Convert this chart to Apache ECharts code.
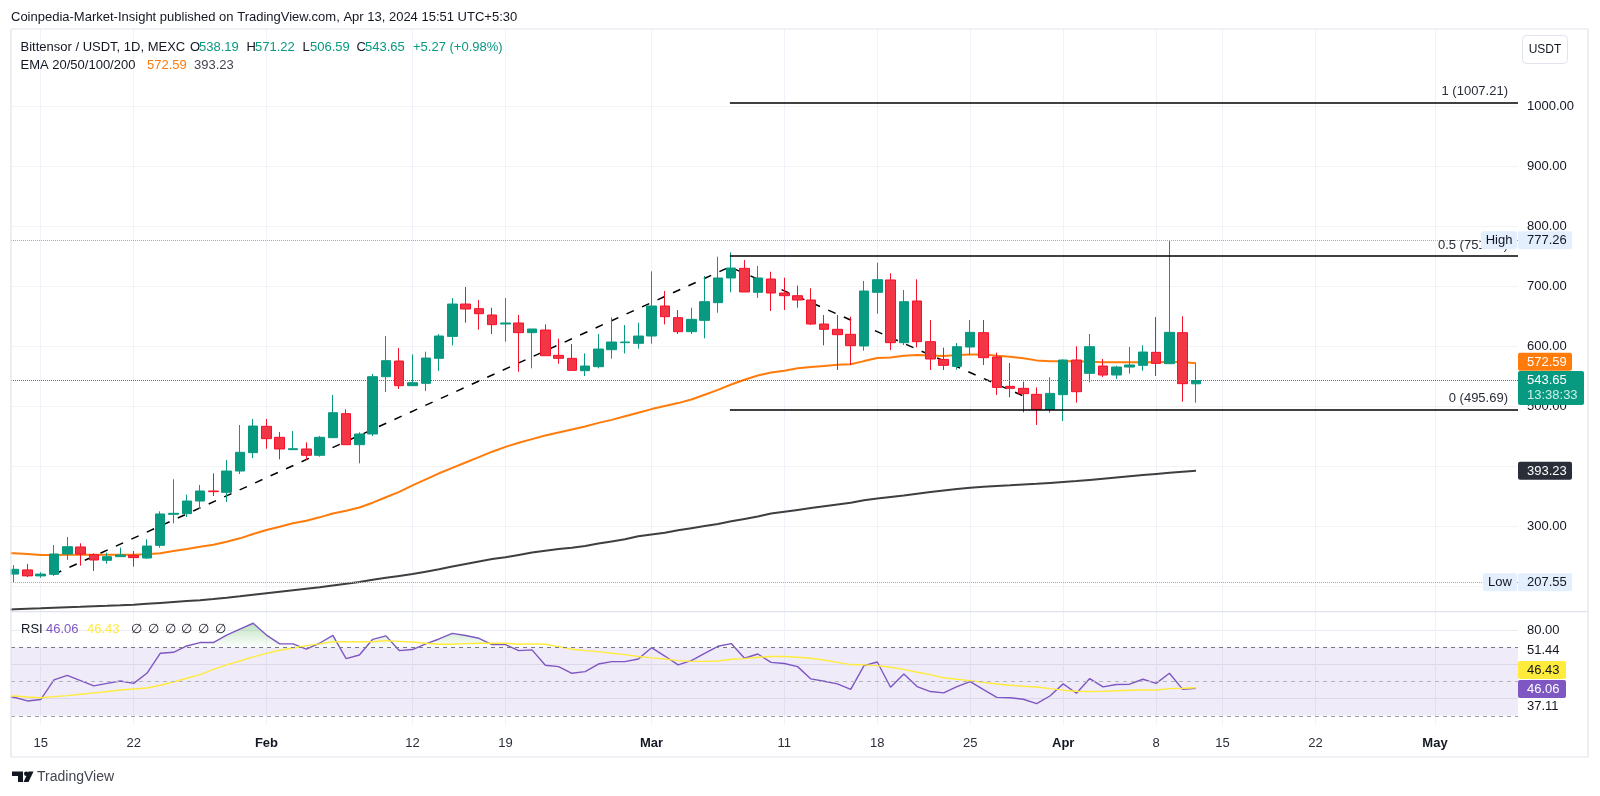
<!DOCTYPE html>
<html><head><meta charset="utf-8">
<style>html,body{margin:0;padding:0;background:#fff}#c{width:1600px;height:796px}</style>
<script src="https://cdn.jsdelivr.net/npm/echarts@6/dist/echarts.min.js"></script>
</head><body><div id="c"></div>
<script>
const opens=[221,228,218,220.6,254.5,266.2,253.4,244,250,252.3,247.8,268.9,320.6,321.7,342.8,359.5,357.3,392.8,423.4,467.3,449,428.4,429.5,419,448.4,488.4,436.7,454.5,550,576.1,535,538.9,580.6,617.2,671.1,663.4,652.8,637.8,639.5,623.4,627.8,585.6,580.6,560,566.7,595,606.7,605.6,617.8,667.8,648.4,625,643.9,673.4,714.5,730.6,690.6,712.8,689.5,685,677.8,637.8,629,620.6,601.2,690.6,711.2,606.7,676.2,608.4,578.9,567.2,599.5,623.4,582.8,533.9,530.6,520.6,495.6,520,577.8,555.6,567.8,552.8,566.1,568.9,590.6,571.7,623.4,538.19];
const closes=[229,218,221,254.5,266.7,254.5,244.5,250,252.8,248.4,267.8,321.2,322.3,342.8,359.5,358.4,392.8,424,467.8,446.7,429.5,430,419,449,490,436.7,454.5,550,576.7,535,540,581.1,617.8,671.1,662.8,655,636.7,639.5,623.4,629.5,585,580.6,560.6,567.8,596.1,607.8,607.8,617.8,667.8,650,625,645.6,675,714.5,731.1,691.2,714.5,689.5,685,677.8,637.8,629,620,601.7,692.8,711.7,606.7,675,608.4,579.5,568.9,600,623.9,581.7,532.2,530.6,521.7,495.6,522.2,577.8,525,600,552.8,566.1,569.5,591.1,572.2,623.9,538.4,543.65];
const lows=[207.55,216,215,218,244.5,235,226.2,238.4,250,233.4,246.2,265,305.6,316.2,329.5,351.2,341.2,387.8,414.5,430,412.3,427.8,411.2,416.7,448.4,436.7,405.6,451,524.5,529.5,535,526.1,559.5,602.2,640,628.4,621.1,608.4,558.3,563.9,585,571.7,560.6,551.1,563.9,580,588.9,596.7,605,637.2,621.1,621.1,613.9,656.7,690.6,691.2,681.2,659.5,661.2,665,636.2,602.3,561.2,569.5,593.4,655,594.5,602.8,599,561.2,561.1,561.7,586.1,569.5,519.5,515.6,490.6,469.5,490,476.1,506.7,540.6,549.5,546.1,555,560,551.1,571.7,508.4,506.59];
const highs=[236,238,224,269.5,282.8,272.3,255.6,256.7,265,259.5,279,325.6,379,353.4,369.5,389,411.2,469.5,479.5,479.5,457.8,459.5,440.6,451.2,519.5,495.6,457.3,554.5,617.8,597.8,587.2,591.7,621,681.1,699.5,677.8,665,681.1,652.8,629.5,637.2,613.4,604.5,588.9,621.1,648.9,636.1,640,725.6,692.8,661.1,665,717.8,750,757.2,744.5,734.5,725,715,701.7,697.3,652.8,652.8,650,709.5,740,722.3,694.5,712.3,644.5,598.4,606.1,644.5,644.5,590,572.8,541.7,532.2,548.9,578.9,600.6,621.1,579.5,568.4,599.5,602.2,649.5,777.26,650.6,571.22];
const ema50=[255.6,254.5,252.8,252.8,253.4,253.4,253.4,253.4,253.4,253.4,254,255.6,259.5,262.8,266.7,270,275,280.6,287.8,294.5,300,305.6,310,315.6,322,326.5,332,340,349,358,369,379,389,398,407,416,425,433,440,446,452,457,462,467,473,478,484,490,496,501,506,512,520,528,537,545,552,557,560,564,566,568,570,570.6,576,581,582,585,586,585.5,584.5,586,587.2,587.2,585,583.3,580.6,577.2,575.6,575.6,575.6,575,573.9,573.9,573.9,573.9,573.9,574.5,574.5,572.59];
const ema200=[162.3,163.1,163.9,164.8,165.6,166.4,167.3,168.1,169,170,171.5,173,174.5,176,177.5,179.5,181.7,184,186.5,189,191.5,194,196.5,199,202,205,208,211.5,215,218,221,225,229,233.5,238,242,246,249,253,257,260,263,265,268,272,275.5,279,284,287,290,294,297.5,301,304.5,309,313,317,322,325,328,331,334,337,340,344,347,349.5,352,355,358,360.5,363,365,366.5,368,369,370.5,371.5,373,374.5,376,378,380,382,384,386,388,390,391.7,393.23];
const rsi=[40.84,38.7,39.5,51,53.7,50.6,47.5,49,50.4,49,54.9,66.6,67.2,70.9,72.9,72.9,77.3,80.8,84.2,77.3,72.1,72.1,69,72.5,77.1,63.5,65.6,74.8,76.8,68.2,68.8,72.1,75,78.3,77,75.4,71.7,71.7,68.2,68.6,59.6,58.8,54.9,55.9,60.3,61.7,61.7,63.3,69.9,65,59.8,62.3,66.6,70.7,72.3,63.7,66.2,61.3,60.6,58.8,51.6,50.2,48.7,45.5,59.4,61.5,46.7,54.5,47.1,44.2,43.4,47.1,50,45.3,40.8,40.6,39.7,37.1,41.6,48.7,43.2,51.8,46.9,48.3,48.5,51.4,49,54.9,45.5,46.06];
const rsiMa=[41.6,41,40.6,41.2,41.8,42.6,43.4,44.2,45.1,45.7,46.3,47.9,49.8,52,54.1,57.2,59.8,62.1,64.5,66.6,68.4,69.7,71.1,72.1,73.4,73.4,73.4,73.4,74,73.6,73.2,72.5,71.9,71.9,72.3,72.5,72.5,72.5,71.9,72.1,71.9,70.5,69,68.2,67.6,66.6,65.8,64.7,63.9,63.3,62.3,61.9,61.9,62.1,63.1,63.5,64.3,64.7,64.7,64.3,63.7,62.7,61.3,60,59.8,59.4,58.4,57.2,55.5,54.1,52.3,51.4,50.6,49.6,48.6,47.9,47.3,46.9,45.9,45,44.4,44.2,44.4,44.7,45,45.1,45.1,45.9,46.1,46.43];
const priorBar={ema50:256,ema200:161.5,rsi:41.5,rsiMa:41.4};
const tickBars=[2,9,19,30,37,48,58,65,72,79,86,91,98,107];
const tickLabels=['15','22','Feb','12','19','Mar','11','18','25','Apr','8','15','22','May'];
const priceGrid=[200,300,400,500,600,700,800,900,1000];
const priceLabels=[200,300,500,600,700,800,900,1000];
const rsiGrid=[80,60,40];
const rsiTickPos=[80,68,35.2];
const rsiTickText=['80.00','51.44','37.11'];
const zigzagBars=[3,53.9,76.2];
const zigzagPrices=[220.6,733,516];
const fibValues=[1007.21,751.45,495.69];
const fibTexts=['1 (1007.21)','0.5 (751.45)','0 (495.69)'];
const fibStartBar=53.9;
const lastPrice=543.65, ema50Last=572.59, ema200Last=393.23, highP=777.26, lowP=207.55;

const FONT='"Liberation Sans",Arial,sans-serif';
const INK='#131722', GREEN='#089981', RED='#f23645', ORANGE='#ff7b0a', DARK='#434651', PURPLE='#7e57c2', YELLOW='#ffeb3b';
const XMIN=-0.236, XMAX=113.25;
const chart=echarts.init(document.getElementById('c'),null,{renderer:'canvas'});
const zip=(a,prev)=>[[-1,prev]].concat(a.map((v,i)=>[i,v]));
const grid='#f0f3fa';
const xAxisBase={type:'value',min:XMIN,max:XMAX,axisLine:{show:false},
  axisTick:{show:false,customValues:tickBars},
  splitLine:{show:true,lineStyle:{color:grid,width:1}}};
const flat=(v,color,type)=>({yAxis:v,lineStyle:{color,type,width:1},label:{show:false},symbol:'none'});
const opt={
 animation:false,backgroundColor:'#fff',textStyle:{fontFamily:FONT},
 grid:[{left:11,top:29,width:1507,height:582.7},{left:11,top:612,width:1507,height:113}],
 xAxis:[
  Object.assign({},xAxisBase,{gridIndex:0,axisLabel:{show:false}}),
  Object.assign({},xAxisBase,{gridIndex:1,axisLabel:{show:true,customValues:tickBars,margin:12,fontSize:13,color:'#2a2e39',fontFamily:FONT,
    formatter:v=>{const s=tickLabels[tickBars.indexOf(Math.round(v))]||'';return /[A-Z]/.test(s)?'{b|'+s+'}':s;},
    rich:{b:{fontWeight:'bold',fontSize:13,color:INK,fontFamily:FONT}}}})
 ],
 yAxis:[
  {type:'value',gridIndex:0,position:'right',min:158.33,max:1129.5,scale:true,axisLine:{show:false},
   axisTick:{show:false,customValues:priceGrid},
   splitLine:{show:true,lineStyle:{color:'#f3f3f6'}},
   axisLabel:{show:true,customValues:priceLabels,margin:9,fontSize:13,color:INK,fontFamily:FONT,align:'left',formatter:v=>Number(v).toFixed(2)}},
  {type:'value',gridIndex:1,position:'right',min:24.6,max:90.8,axisLine:{show:false},
   axisTick:{show:false,customValues:rsiGrid},
   splitLine:{show:true,lineStyle:{color:'#ebe9f2'}},
   axisLabel:{show:true,customValues:rsiTickPos,margin:9,fontSize:13,color:INK,fontFamily:FONT,align:'left',
     formatter:v=>rsiTickText[rsiTickPos.indexOf(Number(v))]||''}}
 ],
 series:[
  {type:'line',name:'Guide',xAxisIndex:0,yAxisIndex:0,z:1,silent:true,symbol:'none',
   data:zigzagBars.map((b,i)=>[b,zigzagPrices[i]]),
   lineStyle:{color:'#000',width:1.5,type:[8,9]},
   markLine:{silent:true,symbol:'none',animation:false,data:[flat(highP,'#a9acb5','dotted'),flat(lowP,'#a9acb5','dotted'),flat(lastPrice,GREEN,'dotted')]}},
  {type:'line',name:'EMA 50',xAxisIndex:0,yAxisIndex:0,z:2,silent:true,symbol:'none',data:zip(ema50,priorBar.ema50),lineStyle:{color:ORANGE,width:2}},
  {type:'line',name:'EMA 200',xAxisIndex:0,yAxisIndex:0,z:2,silent:true,symbol:'none',data:zip(ema200,priorBar.ema200),lineStyle:{color:'#3f3f42',width:2}},
  {type:'candlestick',name:'BTU',xAxisIndex:0,yAxisIndex:0,z:3,silent:true,barWidth:10,clip:true,
   data:opens.map((o,i)=>[i,o,closes[i],lows[i],highs[i]]),
   itemStyle:{color:GREEN,color0:RED,borderColor:GREEN,borderColor0:'#f7102a',borderWidth:1}},
  {type:'line',name:'Fib',xAxisIndex:0,yAxisIndex:0,z:4,silent:true,symbol:'none',data:[],
   markLine:{silent:true,symbol:'none',animation:false,
    data:fibValues.map((v,i)=>[
      {coord:[fibStartBar,v],lineStyle:{color:'#000',width:1.6,type:'solid'},
       label:{show:true,position:'insideEndTop',distance:[10,4],formatter:fibTexts[i],fontSize:13,color:'#2a2e39',fontFamily:FONT}},
      {coord:[XMAX,v]}])}},
  {type:'line',name:'RSI',xAxisIndex:1,yAxisIndex:1,z:3,silent:true,symbol:'none',data:zip(rsi,priorBar.rsi),
   lineStyle:{color:PURPLE,width:1.4},
   areaStyle:{origin:70,opacity:1,color:new echarts.graphic.LinearGradient(0,622,0,648,[{offset:0,color:'rgba(76,175,80,0.38)'},{offset:1,color:'rgba(76,175,80,0)'}],true)},
   markArea:{silent:true,animation:false,itemStyle:{color:'rgba(126,87,194,0.12)'},data:[[{yAxis:70},{yAxis:30}]]},
   markLine:{silent:true,symbol:'none',animation:false,data:[flat(70,'#787b86',[4,4]),flat(50,'#b2b5be',[4,4]),flat(30,'#a0a3ac',[4,4])]}},
  {type:'line',name:'RSI MA',xAxisIndex:1,yAxisIndex:1,z:3,silent:true,symbol:'none',data:zip(rsiMa,priorBar.rsiMa),lineStyle:{color:YELLOW,width:1.4}}
 ]
};
chart.setOption(opt);
const Y=v=>chart.convertToPixel({yAxisIndex:0},v);
const T=(x,y,text,fill,extra)=>({type:'text',z:50,x,y,style:Object.assign({text,fill:fill||INK,font:'13px '+FONT,textVerticalAlign:'middle'},extra||{})});
const box=(x,y,w,h,fill,r)=>({type:'rect',z:40,shape:{x,y,width:w,height:h,r:r===undefined?2:r},style:{fill}});
const line=(x1,y1,x2,y2)=>({type:'line',z:30,shape:{x1,y1,x2,y2},style:{stroke:'#e0e3eb',lineWidth:1.2}});
const badge=(x,w,cy,fill,text,color)=>[box(x,cy-9,w,18,fill),T(x+9,cy+0.5,text,color)];
const BLUE='#e3effd';
const glyphXs=[131,148,165,181,198,215];
const els=[
 {type:'rect',z:29,shape:{x:0,y:29,width:10.5,height:700},style:{fill:'#fff'}},
 line(11,29,1588,29),line(11,29,11,757),line(1588,29,1588,757),line(11,757,1588,757),line(11,611.7,1588,611.7),
 T(11,17.5,'Coinpedia-Market-Insight published on TradingView.com, Apr 13, 2024 15:51 UTC+5:30',INK),
 T(20.5,47.5,'Bittensor / USDT, 1D, MEXC',INK),
 T(190,47.5,'O',INK),T(199,47.5,'538.19',GREEN),T(246.5,47.5,'H',INK),T(255,47.5,'571.22',GREEN),
 T(302.5,47.5,'L',INK),T(310,47.5,'506.59',GREEN),T(356.5,47.5,'C',INK),T(365,47.5,'543.65',GREEN),
 T(413,47.5,'+5.27 (+0.98%)',GREEN),
 T(20.5,65.5,'EMA 20/50/100/200',INK),T(147,65.5,String(ema50Last),ORANGE),T(194,65.5,String(ema200Last),DARK),
 {type:'rect',z:40,shape:{x:1522.5,y:35.5,width:45,height:28,r:4},style:{fill:'#fff',stroke:'#e0e3eb',lineWidth:1}},
 T(1545,50,'USDT',INK,{textAlign:'center',font:'12px '+FONT}),
 T(21,629,'RSI',INK),T(46,629,String(rsi[rsi.length-1]),PURPLE),T(87,629,String(rsiMa[rsiMa.length-1]),YELLOW),
 ...glyphXs.map(x=>T(x,629,'∅',INK)),
 box(1481,Y(highP)-9,36,18,BLUE),T(1499,Y(highP)+0.5,'High',INK,{textAlign:'center'}),
 ...badge(1518,54,Y(highP),BLUE,String(highP),INK),
 box(1483,Y(lowP)-9,34,18,BLUE),T(1500,Y(lowP)+0.5,'Low',INK,{textAlign:'center'}),
 ...badge(1518,54,Y(lowP),BLUE,String(lowP),INK),
 ...badge(1518,54,Y(ema50Last)-1.4,ORANGE,String(ema50Last),'#fff'),
 ...badge(1518,54,Y(ema200Last),'#2a2e39',String(ema200Last),'#fff'),
 box(1518,Y(lastPrice)-9.5,66,34,GREEN),
 T(1527,Y(lastPrice)-0.5,String(lastPrice),'#fff'),T(1527,Y(lastPrice)+15,'13:38:33','#cfeee6'),
 ...badge(1518,48,670,YELLOW,String(rsiMa[rsiMa.length-1]),INK),
 ...badge(1518,48,689,PURPLE,String(rsi[rsi.length-1]),'#fff'),
 {type:'polygon',z:50,shape:{points:[[12,771.5],[23,771.5],[23,782],[18,782],[18,776],[12,776]]},style:{fill:INK}},
 {type:'circle',z:50,shape:{cx:26.2,cy:773.7,r:2.2},style:{fill:INK}},
 {type:'polygon',z:50,shape:{points:[[28.5,771.5],[33.5,771.5],[28.5,782],[23.5,782]]},style:{fill:INK}},
 T(37,777,'TradingView','#434651',{font:'14px '+FONT})
];
chart.setOption({graphic:{elements:els}});
</script></body></html>
